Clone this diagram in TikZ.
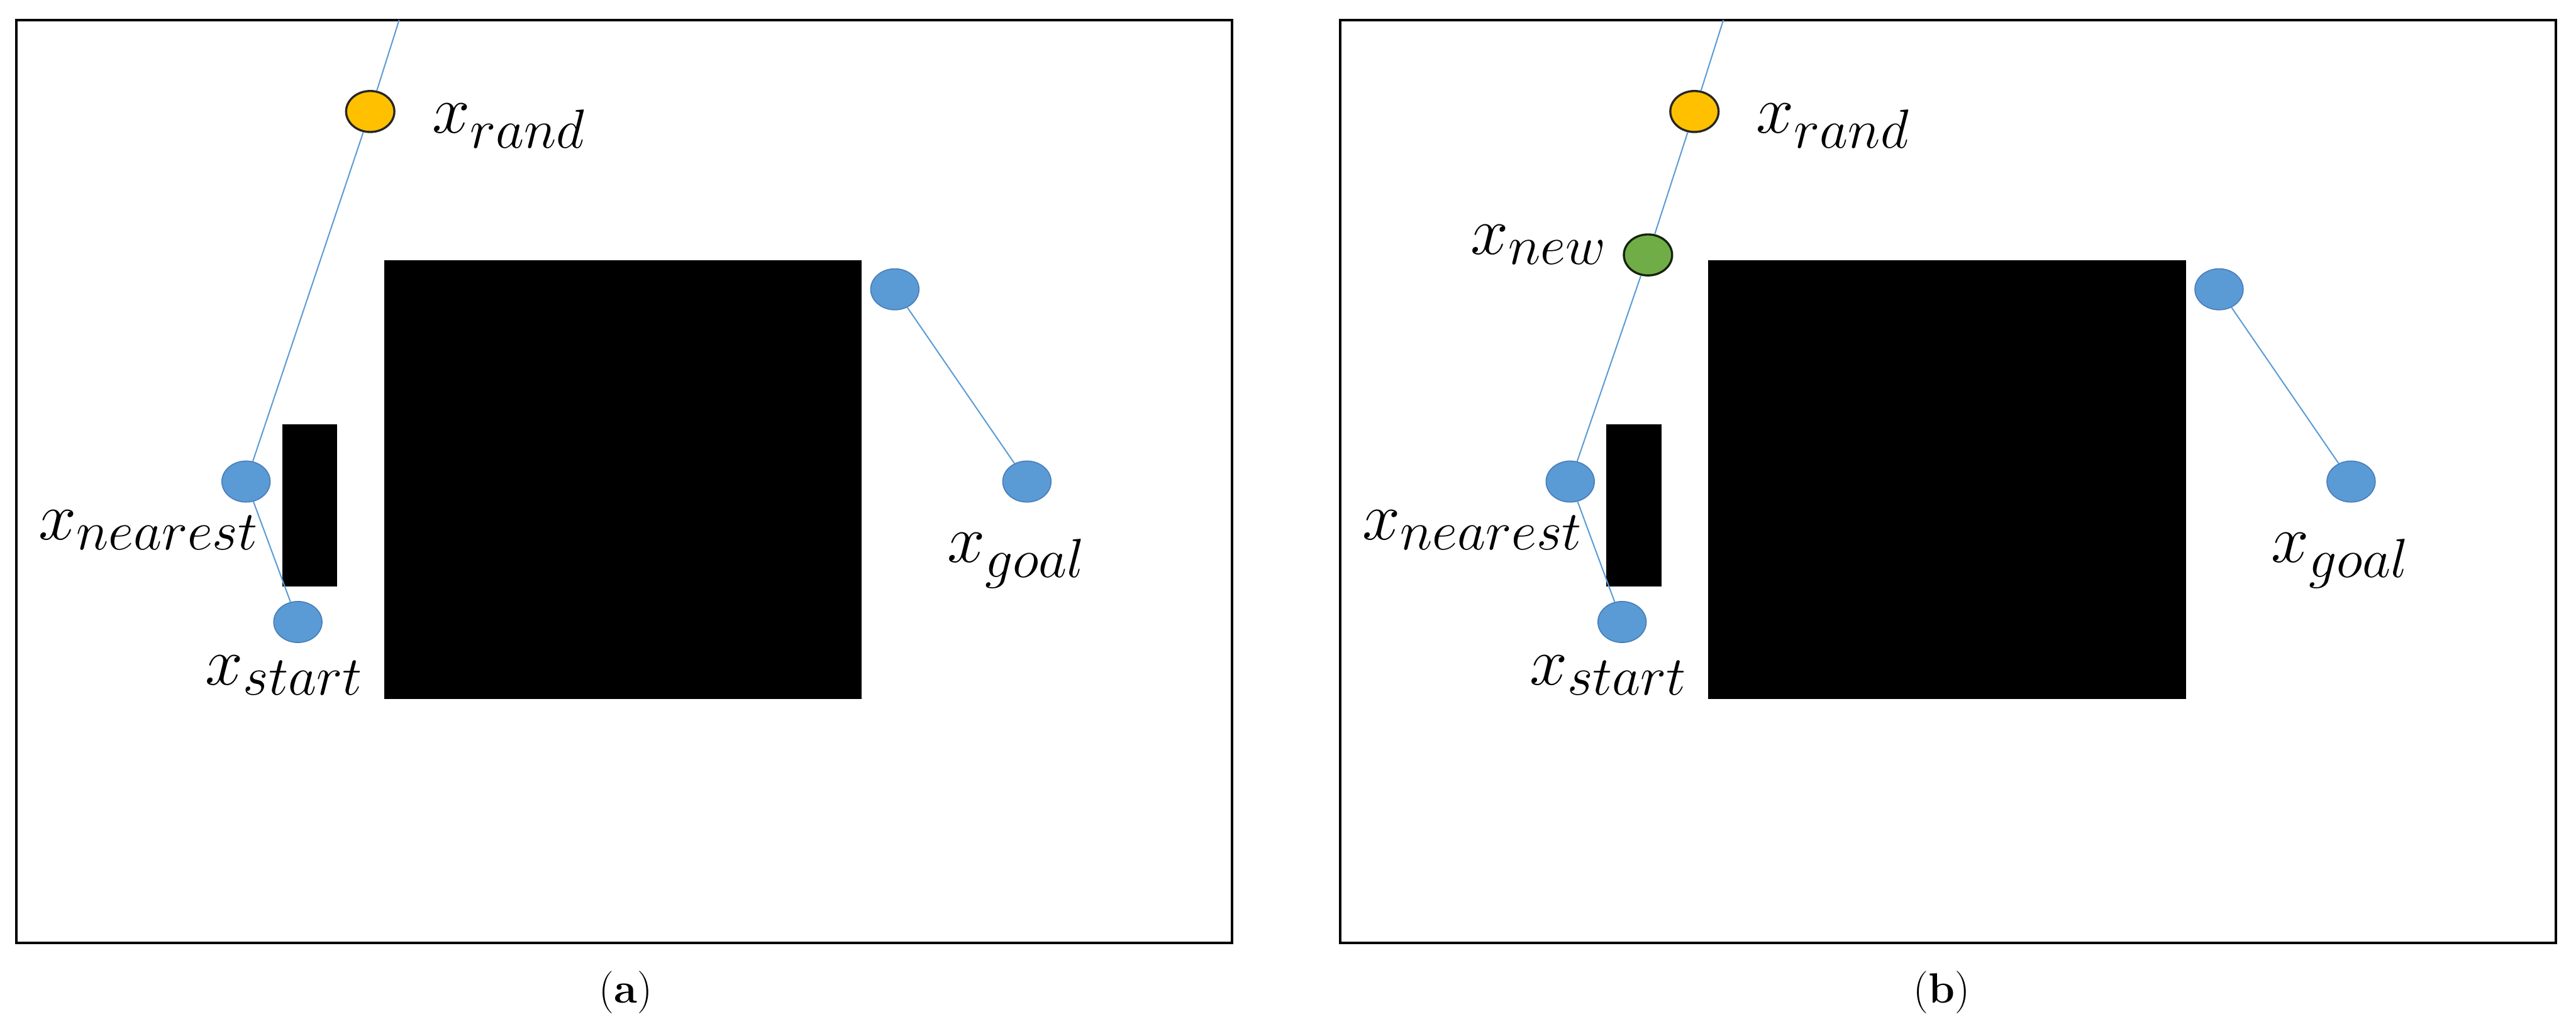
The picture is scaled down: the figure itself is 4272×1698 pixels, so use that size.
\RequirePackage{fix-cm}
\documentclass[tikz,border=0pt]{standalone}
\usepackage{amsmath}
\usepackage{xcolor}
\usetikzlibrary{shapes.geometric}
\DeclareMathSizes{32}{32}{26}{20}
\definecolor{treeblue}{HTML}{5B9BD5}
\definecolor{treeedge}{HTML}{4A7EBB}
\definecolor{randfill}{HTML}{FFC000}
\definecolor{newfill}{HTML}{70AD47}

\begin{document}
\begin{tikzpicture}[x=0.01cm, y=-0.01cm,
    vertex/.style={ellipse, minimum width=0.8cm, minimum height=0.68cm, inner sep=0pt},
    treenode/.style={vertex, fill=treeblue, draw=treeedge, line width=0.5pt},
    randnode/.style={vertex, fill=randfill, draw=black!85, line width=1pt},
    newnode/.style={vertex, fill=newfill, draw=black!80!newfill, line width=1pt},
    branch/.style={draw=treeblue, line width=0.6pt},
    lbl/.style={inner sep=0pt, anchor=base west, font=\fontsize{32}{38}\selectfont},
    captext/.style={inner sep=0pt, font=\fontsize{20}{24}\selectfont}]

    % 0. Page size
    \useasboundingbox (0,0) rectangle (4272,1698);

    % 1. Both panels share the same map, (b) is shifted to the right
    \foreach \p/\ox in {A/0, B/2196}{
        \begin{scope}[xshift=\ox*0.01cm]
            % frame and obstacles
            \draw[line width=1.2pt] (27,33) rectangle (2043,1564);
            \fill[black] (468,704) rectangle (559,973);
            \fill[black] (637,432) rectangle (1429,1160);

            % tree vertices
            \node[treenode] (start\p) at (494,1032) {};
            \node[treenode] (near\p) at (408,799) {};
            \node[treenode] (goalTop\p) at (1484,480) {};
            \node[treenode] (goal\p) at (1703,799) {};
            \node[randnode] (rand\p) at (614,185) {};
            \coordinate (top\p) at (662,33);

            % labels
            \node[lbl] (randLbl\p) at (716,221) {$x_{rand}$};
            \node[lbl] (nearLbl\p) at (63,895) {$x_{nearest}$};
            \node[lbl] (startLbl\p) at (340,1136) {$x_{start}$};
            \node[lbl] (goalLbl\p) at (1570,933) {$x_{goal}$};

            % branches
            \draw[branch] (start\p) -- (near\p);
            \draw[branch] (goalTop\p) -- (goal\p);
            \draw[branch] (top\p) -- (rand\p);
        \end{scope}
    }

    % 2. Panel (a): straight branch to the random sample
    \draw[branch] (nearA) -- (randA);

    % 3. Panel (b): new vertex on the way to the random sample
    \node[newnode] (newB) at (2733,423) {};
    \node[lbl] (newLblB) at (2438,422) {$x_{new}$};
    \draw[branch] (nearB) -- (newB);
    \draw[branch] (newB) -- (randB);

    % 4. Captions
    \node[captext] (capA) at (1038,1646) {(\textbf{a})};
    \node[captext] (capB) at (3220,1646) {(\textbf{b})};

\end{tikzpicture}
\end{document}
